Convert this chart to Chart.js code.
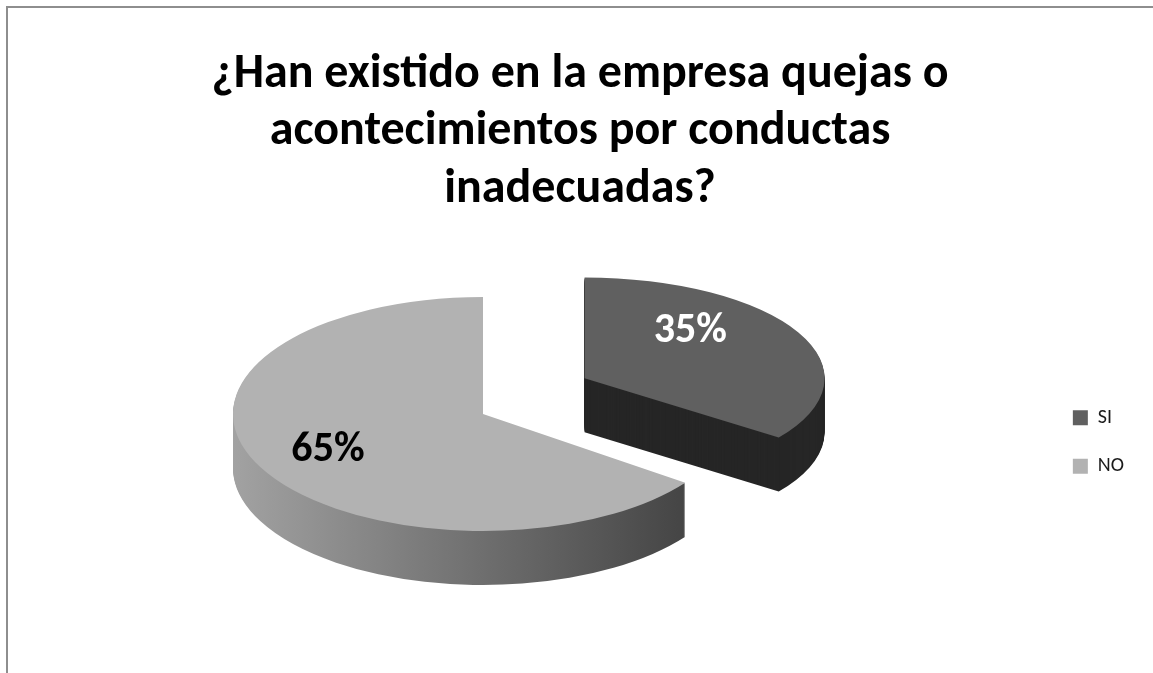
<!DOCTYPE html>
<html>
<head>
<meta charset="utf-8">
<script src="https://cdn.jsdelivr.net/npm/chart.js@4.4.1/dist/chart.umd.min.js"></script>
<style>
  html, body { margin: 0; padding: 0; background: #fff; }
  #wrap { position: relative; width: 1153px; height: 673px; overflow: hidden; }
  #frame { position: absolute; left: 6px; top: 6px; width: 1200px; height: 700px;
           border-left: 2px solid #8e8e8e; border-top: 2px solid #8e8e8e; }
  canvas { position: absolute; left: 0; top: 0; }
</style>
</head>
<body>
<div id="wrap">
  <div id="frame"></div>
  <canvas id="pieChart" width="1153" height="673"></canvas>
</div>
<script>
const titleLines = ['¿Han existido en la empresa quejas o', 'acontecimientos por conductas', 'inadecuadas?'];
const categories = ['SI', 'NO'];
const values = [35, 65];
const topColors = ['#606060', '#b2b2b2'];
const labelColors = ['#ffffff', '#000000'];

// where the tilted disc sits on the page
const PIE_CX = 483, PIE_CY = 414, PIE_R = 250;
const DEPTH = 54;              // disc thickness in px
// per slice: [SI, NO]
const TILT = [0.42, 0.468];    // vertical squash (the pulled-out slice sits further back)
const SCALE = [0.96, 1];
const EXPLODE = [114, 0];
const LIFT = [-14, 0];
const LABEL_R = [0.64, 0.696];
const LABEL_TURN = [-0.34, 0]; // radians off the slice bisector
const FONT = 'Carlito, Calibri, Lato, sans-serif';

// apex of slice i on the page
function sliceApex(arc, i) {
    const mid = (arc.startAngle + arc.endAngle) / 2;
    return {
        x: PIE_CX + Math.cos(mid) * EXPLODE[i],
        y: PIE_CY + Math.sin(mid) * EXPLODE[i] * TILT[i] + LIFT[i]
    };
}

// puts the arc into the squashed, shifted space
function arcTransform(ctx, arc, i, drop) {
    const apex = sliceApex(arc, i);
    ctx.translate(apex.x, apex.y + drop);
    ctx.scale(SCALE[i], SCALE[i] * TILT[i]);
    ctx.translate(-arc.x, -arc.y);
}

function paintArc(ctx, arc, i, drop, fill) {
    const saved = arc.options;
    arc.options = Object.assign({}, saved, { backgroundColor: fill, borderWidth: 0, offset: 0 });
    ctx.save();
    arcTransform(ctx, arc, i, drop);
    arc.draw(ctx);
    ctx.restore();
    arc.options = saved;
}

const pie3d = {
    id: 'pie3d',
    beforeDatasetDraw(chart, args) {
        const ctx = chart.ctx;
        const arcs = args.meta.data;
        const x0 = arcs[0].x;
        const sideGrad = ctx.createLinearGradient(x0 - PIE_R, 0, x0 + PIE_R * 0.82, 0);
        sideGrad.addColorStop(0, '#a2a2a2');
        sideGrad.addColorStop(1, '#444444');
        const sideFills = ['#262626', sideGrad];

        // side walls: the same slice stacked downwards
        for (let d = DEPTH; d >= 1; d--) {
            arcs.forEach((arc, i) => paintArc(ctx, arc, i, d, sideFills[i]));
        }
        // top faces
        arcs.forEach((arc, i) => paintArc(ctx, arc, i, 0, arc.options.backgroundColor));
        return false;
    },
    afterDatasetsDraw(chart) {
        const ctx = chart.ctx;
        const meta = chart.getDatasetMeta(0);
        const total = values.reduce((a, b) => a + b, 0);
        ctx.save();
        ctx.font = 'bold 42px ' + FONT;
        ctx.textAlign = 'center';
        ctx.textBaseline = 'middle';
        meta.data.forEach((arc, i) => {
            const apex = sliceApex(arc, i);
            const a = (arc.startAngle + arc.endAngle) / 2 + LABEL_TURN[i];
            const r = PIE_R * SCALE[i] * LABEL_R[i];
            ctx.fillStyle = labelColors[i];
            ctx.fillText(Math.round(values[i] / total * 100) + '%',
                         apex.x + Math.cos(a) * r,
                         apex.y + Math.sin(a) * r * TILT[i]);
        });
        ctx.restore();
    }
};

const ctx = document.getElementById('pieChart').getContext('2d');
new Chart(ctx, {
    type: 'pie',
    data: {
        labels: categories,
        datasets: [{
            data: values,
            backgroundColor: topColors,
            borderWidth: 0,
            radius: PIE_R,
            clip: false
        }]
    },
    options: {
        responsive: false,
        animation: false,
        layout: {
            padding: { left: 26, right: 19, top: 0, bottom: 18 }
        },
        plugins: {
            title: {
                display: true,
                text: titleLines,
                color: '#000',
                font: { family: FONT, size: 48, weight: 'bold', lineHeight: 1.2 },
                padding: { top: 46, bottom: 10 }
            },
            legend: {
                position: 'right',
                fullSize: false,
                labels: {
                    boxWidth: 15,
                    boxHeight: 15,
                    padding: 28.5,
                    color: '#1a1a1a',
                    font: { family: FONT, size: 20 }
                }
            },
            tooltip: { enabled: false }
        }
    },
    plugins: [pie3d]
});
</script>
</body>
</html>
